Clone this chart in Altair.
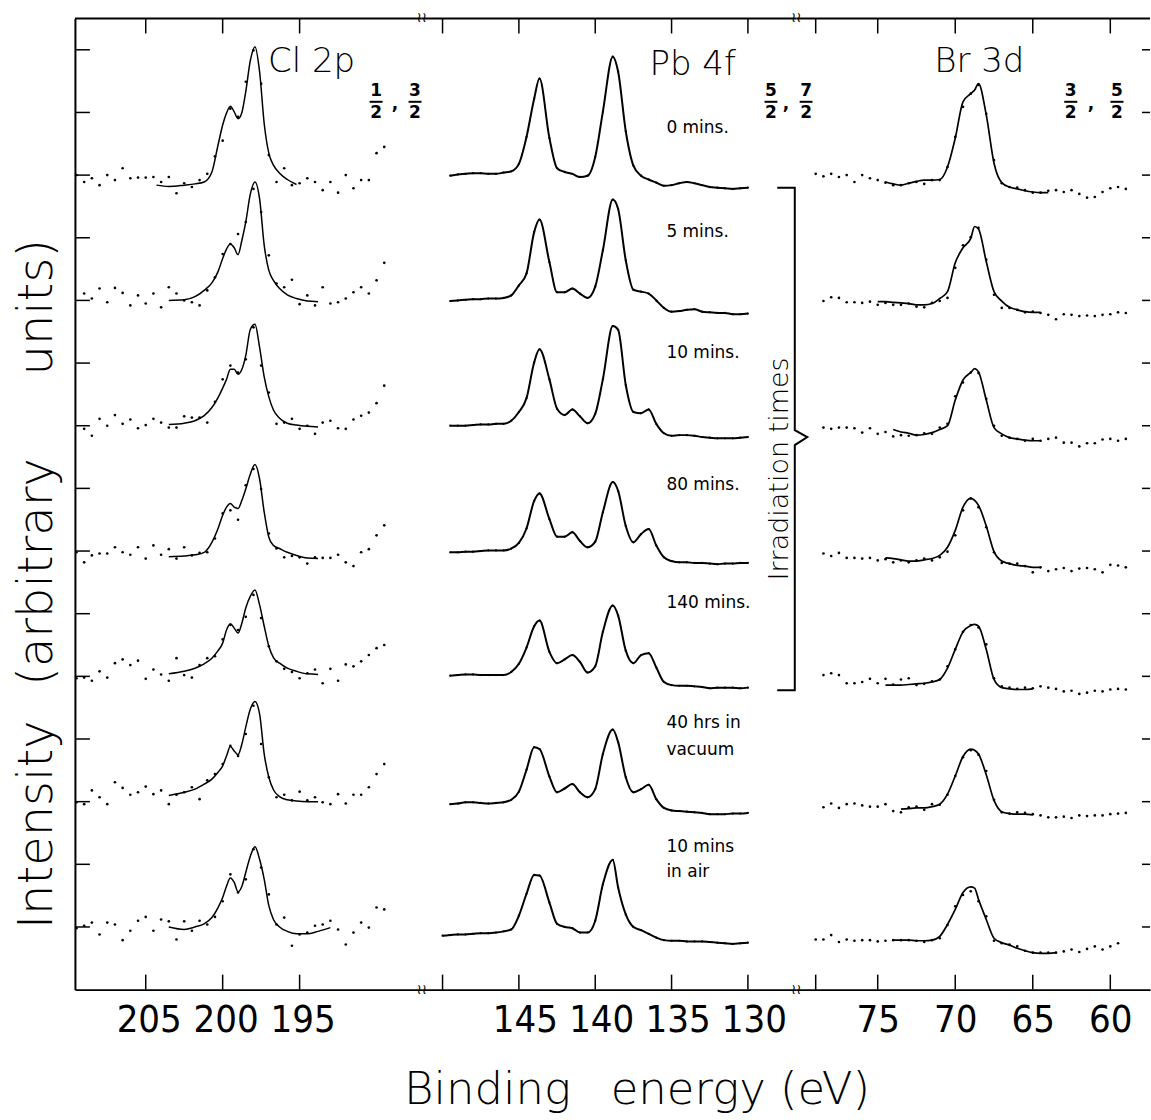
import altair as alt
import pandas as pd

# ---------------------------------------------------------------------------
# XPS spectra of a mixed Pb(Cl,Br) film after successive X-ray exposures.
# Each spectrum is stacked on its own baseline (in tick units).
# ---------------------------------------------------------------------------
SPECTRA = ["0 mins.", "5 mins.", "10 mins.", "80 mins.", "140 mins.",
           "40 hrs in vacuum", "10 mins in air"]
BASELINE = [13, 11, 9, 7, 5, 3, 1]

# --- Cl 2p: fitted envelope -------------------------------------------------
CL_FIT_E = [204.3, 203.5, 202.5, 201.8, 201.2, 200.7, 200.3, 200.0, 199.75, 199.5,
            199.25, 199.0, 198.75, 198.5, 198.2, 197.9, 197.6, 197.3, 197.0, 196.7,
            196.3, 195.8, 195.2, 194.5, 193.8, 193.0]
CL_FIT = [
    [-0.16, -0.18, -0.16, -0.14, -0.11, 0.05, 0.48, 0.80, 0.99, 1.10, 1.01, 0.90, 1.00,
     1.33, 1.83, 2.05, 1.65, 0.82, 0.35, 0.16, 0.03, -0.07, -0.15, None, None, None],
    [None, 0.00, 0.01, 0.06, 0.16, 0.28, 0.46, 0.67, 0.82, 0.90, 0.84, 0.73, 0.96,
     1.25, 1.70, 1.89, 1.62, 0.88, 0.48, 0.32, 0.19, 0.09, 0.03, -0.01, -0.02, None],
    [None, 0.02, 0.04, 0.08, 0.16, 0.29, 0.45, 0.60, 0.74, 0.90, 0.90, 0.82, 0.90,
     1.12, 1.54, 1.62, 1.25, 0.78, 0.46, 0.25, 0.12, 0.04, 0.01, -0.01, -0.02, None],
    [None, -0.09, -0.08, -0.06, -0.02, 0.14, 0.36, 0.57, 0.70, 0.76, 0.70, 0.68, 0.81,
     0.99, 1.23, 1.38, 1.15, 0.62, 0.22, 0.09, 0.04, -0.02, -0.07, -0.11, -0.12, None],
    [None, 0.04, 0.08, 0.13, 0.20, 0.29, 0.41, 0.53, 0.74, 0.84, 0.77, 0.69, 0.85,
     1.09, 1.28, 1.38, 1.14, 0.80, 0.48, 0.30, 0.21, 0.13, 0.08, 0.04, 0.03, None],
    [None, 0.10, 0.15, 0.20, 0.28, 0.36, 0.47, 0.57, 0.73, 0.88, 0.81, 0.75, 0.92,
     1.19, 1.48, 1.60, 1.40, 0.76, 0.39, 0.19, 0.08, 0.03, 0.01, 0.00, 0.00, None],
    [None, 0.00, -0.04, 0.00, 0.05, 0.15, 0.31, 0.47, 0.65, 0.78, 0.71, 0.56, 0.65,
     0.87, 1.13, 1.28, 1.08, 0.76, 0.34, 0.12, 0.00, -0.07, -0.11, -0.11, -0.07, -0.01],
]

# --- Cl 2p: measured counts -------------------------------------------------
CL_DOT_E = [209.5, 209.0, 208.5, 208.0, 207.5, 207.0, 206.5, 206.0, 205.5, 205.0,
            204.5, 204.0, 203.5, 203.0, 202.5, 202.0, 201.5, 201.0, 200.5, 200.0,
            199.5, 199.0, 198.5, 198.0, 197.5, 197.0, 196.5, 196.0, 195.5, 195.0,
            194.5, 194.0, 193.5, 193.0, 192.5, 192.0, 191.5, 191.0, 190.5, 190.0, 189.5]
CL_DOTS = [
    [0.00, -0.11, -0.05, -0.16, 0.00, -0.08, 0.11, -0.05, -0.04, -0.04, -0.03, -0.11,
     -0.03, -0.29, -0.13, -0.19, -0.08, 0.02, 0.30, 0.55, 1.06, 0.93, 1.49, 1.99, 1.46,
     0.32, -0.11, 0.11, -0.16, -0.13, -0.05, -0.11, -0.24, -0.11, -0.28, 0.00, -0.21,
     -0.08, -0.08, 0.35, 0.45],
    [None, 0.11, 0.03, 0.19, -0.03, 0.20, 0.12, -0.08, 0.08, -0.05, 0.11, -0.11, 0.21,
     0.11, 0.00, -0.03, -0.08, 0.16, 0.37, 0.74, 0.90, 1.06, 1.25, 1.78, 1.41, 0.72,
     0.27, 0.21, 0.33, -0.06, 0.08, -0.08, 0.21, -0.05, -0.03, 0.03, 0.13, 0.21, 0.11,
     0.32, 0.60],
    [None, -0.05, -0.16, 0.11, 0.00, 0.17, 0.03, 0.10, -0.04, 0.01, 0.11, 0.05, -0.03,
     -0.03, 0.15, 0.13, 0.13, 0.05, 0.38, 0.74, 0.96, 0.85, 1.06, 1.57, 0.96, 0.53,
     0.03, 0.05, 0.11, -0.05, 0.00, -0.13, 0.05, 0.08, -0.04, -0.05, 0.10, 0.16, 0.21,
     0.36, 0.64],
    [-0.02, -0.18, -0.07, -0.04, -0.04, 0.06, -0.02, -0.06, 0.06, -0.12, 0.09, -0.06,
     0.03, -0.12, 0.06, -0.07, -0.03, -0.02, 0.20, 0.60, 0.65, 0.50, 1.05, 1.31, 0.99,
     0.28, 0.04, -0.10, -0.08, -0.10, -0.20, -0.10, -0.11, -0.11, -0.06, -0.18, -0.24,
     -0.02, 0.03, 0.25, 0.41],
    [-0.03, -0.02, -0.07, 0.08, -0.02, 0.21, 0.27, 0.18, 0.25, -0.04, 0.11, 0.03, -0.07,
     0.29, 0.02, -0.02, 0.18, 0.29, 0.32, 0.59, 0.82, 0.74, 0.95, 1.30, 0.93, 0.48,
     0.24, 0.12, 0.07, -0.03, 0.05, 0.11, -0.11, 0.12, -0.07, 0.19, 0.16, 0.24, 0.34,
     0.45, 0.50],
    [-0.01, -0.04, 0.18, 0.07, -0.04, 0.31, 0.22, 0.11, 0.15, 0.24, 0.12, 0.18, -0.04,
     0.11, 0.15, 0.23, 0.04, 0.34, 0.44, 0.60, 0.89, 0.73, 1.08, 1.53, 0.92, 0.39,
     0.07, 0.11, 0.02, 0.16, 0.02, 0.07, -0.01, -0.04, 0.12, -0.03, 0.11, 0.11, 0.23,
     0.44, 0.60],
    [-0.02, 0.02, 0.07, -0.12, 0.07, 0.04, -0.21, -0.06, 0.10, 0.16, -0.06, 0.12, 0.09,
     -0.20, 0.09, -0.06, 0.10, 0.04, 0.16, 0.41, 0.84, 0.55, 0.76, 1.24, 0.95, 0.52,
     0.04, 0.15, -0.30, -0.12, -0.09, 0.02, 0.04, 0.10, -0.04, -0.28, -0.09, 0.07,
     -0.01, 0.31, 0.28],
]

# --- Pb 4f: densely sampled trace --------------------------------------------
PB_E = [150.0, 149.5, 149.0, 148.5, 148.0, 147.5, 147.0, 146.5, 146.0, 145.5, 145.0,
        144.5, 144.0, 143.65, 143.0, 142.5, 142.0, 141.5, 141.0, 140.5, 140.0, 139.5,
        138.85, 138.5, 138.0, 137.5, 137.0, 136.5, 136.0, 135.5, 135.0, 134.5, 134.0,
        133.5, 133.0, 132.5, 132.0, 131.5, 131.0, 130.5, 130.0]
PB_FIT = [
    [None, -0.01, 0.01, 0.02, 0.03, 0.03, 0.02, 0.02, 0.04, 0.06, 0.18, 0.61, 1.22,
     1.54, 0.59, 0.11, 0.05, 0.02, -0.03, -0.01, 0.29, 1.01, 1.89, 1.65, 0.70, 0.15,
     -0.01, -0.07, -0.12, -0.17, -0.16, -0.13, -0.11, -0.13, -0.16, -0.19, -0.20,
     -0.21, -0.22, -0.21, -0.20],
    [None, -0.01, 0.00, 0.01, 0.02, 0.02, 0.03, 0.03, 0.04, 0.08, 0.24, 0.43, 1.09,
     1.29, 0.61, 0.13, 0.13, 0.19, 0.11, 0.04, 0.22, 0.80, 1.61, 1.46, 0.64, 0.17,
     0.14, 0.11, 0.00, -0.12, -0.18, -0.17, -0.15, -0.14, -0.18, -0.19, -0.20, -0.20,
     -0.22, -0.22, -0.21],
    [None, 0.00, 0.00, 0.00, 0.01, 0.02, 0.02, 0.03, 0.03, 0.08, 0.22, 0.44, 1.01,
     1.22, 0.74, 0.27, 0.17, 0.26, 0.15, 0.04, 0.19, 0.74, 1.59, 1.53, 0.65, 0.22,
     0.20, 0.26, 0.03, -0.12, -0.16, -0.15, -0.15, -0.16, -0.18, -0.19, -0.20, -0.20,
     -0.20, -0.19, -0.18],
    [None, -0.02, -0.02, -0.01, -0.01, 0.00, 0.01, 0.01, 0.01, 0.04, 0.13, 0.36, 0.80,
     0.92, 0.51, 0.23, 0.23, 0.30, 0.16, 0.06, 0.15, 0.62, 1.10, 0.96, 0.40, 0.14,
     0.27, 0.35, 0.09, -0.10, -0.16, -0.18, -0.18, -0.19, -0.19, -0.20, -0.21, -0.20,
     -0.20, -0.19, -0.19],
    [None, 0.01, 0.02, 0.03, 0.03, 0.02, 0.02, 0.02, 0.02, 0.07, 0.20, 0.46, 0.80,
     0.89, 0.39, 0.21, 0.27, 0.34, 0.23, 0.06, 0.16, 0.71, 1.13, 0.97, 0.41, 0.21,
     0.34, 0.37, 0.14, -0.09, -0.14, -0.15, -0.15, -0.16, -0.17, -0.19, -0.18, -0.18,
     -0.18, -0.19, -0.18],
    [None, -0.04, -0.03, -0.01, -0.01, -0.02, -0.03, -0.02, -0.01, 0.03, 0.16, 0.51,
     0.87, 0.84, 0.40, 0.15, 0.21, 0.28, 0.15, 0.07, 0.20, 0.76, 1.15, 0.95, 0.39,
     0.15, 0.20, 0.27, 0.04, -0.10, -0.14, -0.15, -0.16, -0.17, -0.18, -0.20, -0.20,
     -0.20, -0.19, -0.19, -0.18],
    [-0.14, -0.13, -0.12, -0.12, -0.11, -0.10, -0.10, -0.09, -0.07, -0.04, 0.18, 0.53,
     0.83, 0.82, 0.39, 0.05, 0.00, -0.02, -0.09, -0.09, 0.10, 0.68, 1.07, 0.63, 0.20,
     0.00, -0.05, -0.11, -0.17, -0.21, -0.22, -0.22, -0.23, -0.23, -0.23, -0.24,
     -0.25, -0.26, -0.27, -0.26, -0.25],
]

# --- Br 3d: fitted envelope ---------------------------------------------------
BR_FIT_E = [75.0, 74.5, 74.0, 73.5, 73.0, 72.5, 72.0, 71.5, 71.0, 70.5, 70.0, 69.5,
            69.0, 68.75, 68.5, 68.0, 67.5, 67.0, 66.5, 66.0, 65.5, 65.0, 64.5, 64.0, 63.5]
BR_FIT = [
    [None, -0.11, -0.14, -0.16, -0.13, -0.10, -0.08, -0.08, -0.07, 0.13, 0.59, 1.17,
     1.30, 1.36, 1.46, 0.96, 0.19, -0.12, -0.19, -0.22, -0.25, -0.27, -0.28, -0.28, None],
    [-0.02, -0.02, -0.03, -0.04, -0.05, -0.07, -0.07, -0.05, 0.03, 0.14, 0.60, 0.84,
     0.99, 1.18, 1.14, 0.62, 0.14, -0.01, -0.11, -0.15, -0.18, -0.19, -0.19, None, None],
    [None, None, -0.06, -0.10, -0.12, -0.15, -0.14, -0.11, -0.06, 0.00, 0.41, 0.73,
     0.85, 0.91, 0.86, 0.41, -0.03, -0.13, -0.19, -0.21, -0.23, -0.24, -0.24, None, None],
    [None, -0.11, -0.12, -0.14, -0.16, -0.16, -0.14, -0.12, -0.07, 0.06, 0.33, 0.70,
     0.84, 0.81, 0.73, 0.40, -0.01, -0.16, -0.20, -0.23, -0.24, -0.26, -0.26, None, None],
    [None, -0.14, -0.14, -0.14, -0.13, -0.12, -0.11, -0.09, -0.05, 0.13, 0.43, 0.71,
     0.81, 0.83, 0.80, 0.43, -0.05, -0.18, -0.20, -0.21, -0.21, -0.20, None, None, None],
    [None, None, None, -0.12, -0.11, -0.10, -0.10, -0.08, -0.04, 0.12, 0.41, 0.72,
     0.84, 0.82, 0.76, 0.43, 0.02, -0.16, -0.19, -0.20, -0.20, -0.21, None, None, None],
    [None, None, -0.21, -0.21, -0.21, -0.22, -0.22, -0.21, -0.15, 0.04, 0.28, 0.55,
     0.64, 0.62, 0.44, 0.12, -0.18, -0.25, -0.29, -0.34, -0.38, -0.41, -0.42, -0.42, -0.41],
]

# --- Br 3d: measured counts ---------------------------------------------------
BR_DOT_E = [79.0, 78.5, 78.0, 77.5, 77.0, 76.5, 76.0, 75.5, 75.0, 74.5, 74.0, 73.5,
            73.0, 72.5, 72.0, 71.5, 71.0, 70.5, 70.0, 69.5, 69.0, 68.5, 68.0, 67.5,
            67.0, 66.5, 66.0, 65.5, 65.0, 64.5, 64.0, 63.5, 63.0, 62.5, 62.0, 61.5,
            61.0, 60.5, 60.0, 59.5, 59.0]
BR_DOTS = [
    [0.02, -0.02, 0.02, -0.03, 0.00, -0.11, 0.00, -0.05, -0.08, -0.12, -0.16, -0.16,
     -0.13, -0.11, -0.14, -0.08, -0.08, 0.13, 0.61, 1.09, 1.30, 1.44, 0.98, 0.24,
     -0.13, -0.19, -0.20, -0.24, -0.28, -0.28, -0.25, -0.24, -0.27, -0.24, -0.30,
     -0.36, -0.35, -0.27, -0.21, -0.19, -0.22],
    [None, -0.01, 0.05, 0.04, -0.03, -0.03, -0.04, -0.02, -0.07, -0.04, -0.07, -0.07,
     -0.05, -0.10, -0.11, -0.04, -0.01, 0.04, 0.52, 0.88, 1.01, 1.16, 0.65, 0.09,
     -0.12, -0.12, -0.15, -0.19, -0.18, -0.20, -0.23, -0.30, -0.22, -0.23, -0.25,
     -0.24, -0.25, -0.23, -0.22, -0.19, -0.20],
    [None, -0.03, -0.05, -0.03, -0.03, -0.04, -0.11, -0.04, -0.13, -0.10, -0.17, -0.15,
     -0.16, -0.15, -0.12, -0.13, -0.03, 0.03, 0.47, 0.69, 0.85, 0.84, 0.43, 0.00,
     -0.16, -0.19, -0.21, -0.24, -0.21, -0.24, -0.21, -0.19, -0.27, -0.27, -0.33,
     -0.28, -0.28, -0.22, -0.21, -0.24, -0.21],
    [None, -0.04, -0.08, -0.03, -0.11, -0.11, -0.12, -0.11, -0.15, -0.13, -0.18, -0.15,
     -0.18, -0.15, -0.12, -0.15, -0.10, -0.01, 0.25, 0.65, 0.84, 0.70, 0.38, -0.02,
     -0.19, -0.20, -0.20, -0.24, -0.34, -0.26, -0.32, -0.29, -0.27, -0.32, -0.28,
     -0.27, -0.29, -0.34, -0.22, -0.23, -0.26],
    [None, 0.02, 0.05, 0.02, -0.11, -0.11, -0.09, -0.04, -0.11, -0.04, -0.13, -0.05,
     -0.03, -0.14, -0.12, -0.08, -0.05, 0.16, 0.43, 0.71, 0.82, 0.78, 0.51, -0.03,
     -0.16, -0.18, -0.20, -0.18, -0.19, -0.16, -0.18, -0.20, -0.24, -0.23, -0.28,
     -0.26, -0.23, -0.24, -0.21, -0.20, -0.21],
    [None, -0.09, -0.03, -0.10, -0.04, -0.03, -0.06, -0.08, -0.08, -0.04, -0.15, -0.17,
     -0.09, -0.08, -0.13, -0.04, -0.05, 0.11, 0.41, 0.71, 0.82, 0.75, 0.49, 0.03,
     -0.17, -0.19, -0.17, -0.18, -0.20, -0.22, -0.25, -0.25, -0.24, -0.26, -0.22,
     -0.23, -0.22, -0.22, -0.20, -0.19, -0.18],
    [-0.20, -0.20, -0.13, -0.24, -0.20, -0.22, -0.21, -0.21, -0.23, -0.22, -0.21, -0.21,
     -0.21, -0.22, -0.24, -0.21, -0.18, 0.03, 0.33, 0.51, 0.57, 0.41, 0.17, -0.22,
     -0.26, -0.28, -0.31, -0.38, -0.41, -0.41, -0.41, -0.41, -0.39, -0.36, -0.40,
     -0.35, -0.31, -0.36, -0.31, -0.26, None],
]

# Axis ticks (energies in eV) and the ones that carry a number
CL_TICKS, CL_LABELS = [205, 200, 195], [205, 200, 195]
PB_TICKS, PB_LABELS = [150, 145, 140, 135, 130], [145, 140, 135, 130]
BR_TICKS, BR_LABELS = [79, 75, 70, 65, 60], [75, 70, 65, 60]

# ---------------------------------------------------------------------------
H = 972
W_CL, W_PB, W_BR = 347, 375, 354
CL_DOMAIN, PB_DOMAIN, BR_DOMAIN = [187.07, 209.6], [126.83, 151.37], [57.44, 80.25]
TICK = 15
INK = "black"
NUM_FONT = "DejaVu Sans Condensed, Liberation Sans, sans-serif"
HAND_FONT = "DejaVu Sans"


def stack(energies, rows):
    recs = []
    for name, base, row in zip(SPECTRA, BASELINE, rows):
        assert len(row) == len(energies), name
        for e, v in zip(energies, row):
            if v is not None:
                recs.append({"energy": e, "signal": round(base + v, 3), "spectrum": name})
    return pd.DataFrame(recs)


def xenc(domain, labels, shift, field="energy"):
    return alt.X(f"{field}:Q",
                 scale=alt.Scale(domain=domain, reverse=True, nice=False, zero=False),
                 axis=alt.Axis(values=labels, title=None, ticks=False, grid=False,
                               domainColor=INK, domainWidth=2, labelFont=NUM_FONT,
                               labelFontSize=38, labelColor=INK, labelPadding=12,
                               labelOffset=shift, labelFlush=False, labelOverlap=False,
                               format="d"))


def yenc(first, field="signal"):
    axis = (alt.Axis(labels=False, ticks=False, grid=False, title=None,
                     domainColor=INK, domainWidth=2) if first else None)
    return alt.Y(f"{field}:Q", scale=alt.Scale(domain=[0, 15.5], nice=False, zero=False),
                 axis=axis)


def panel(width, domain, labels, shift, ticks, fit, dots, line_width, dot_size,
          title, fracs, first=False, last=False, extra=()):
    X = lambda f="energy": xenc(domain, labels, shift, f)
    layers = [
        alt.Chart(fit).mark_line(color=INK, strokeWidth=line_width, interpolate="monotone")
        .encode(x=X(), y=yenc(first), detail="spectrum:N"),
        alt.Chart(dots).mark_circle(color=INK, size=dot_size, opacity=1)
        .encode(x=X(), y=yenc(first)),
    ]
    tick_df = pd.DataFrame({"energy": ticks})
    layers += [
        alt.Chart(tick_df).mark_rule(color=INK, strokeWidth=1.5)
        .encode(x=X(), y=alt.value(H - TICK), y2=alt.value(H)),
        alt.Chart(tick_df).mark_rule(color=INK, strokeWidth=1.5)
        .encode(x=X(), y=alt.value(0), y2=alt.value(TICK)),
        alt.Chart(pd.DataFrame({"edge": [0]})).mark_rule(color=INK, strokeWidth=2)
        .encode(x=alt.value(0), x2=alt.value(width), y=alt.value(0)),
    ]
    levels = pd.DataFrame({"signal": list(range(1, 16))})
    if first:
        layers.append(alt.Chart(levels).mark_rule(color=INK, strokeWidth=1.5)
                      .encode(y=yenc(first), x=alt.value(0), x2=alt.value(TICK)))
    if last:
        layers.append(alt.Chart(levels).mark_rule(color=INK, strokeWidth=1.5)
                      .encode(y=yenc(first), x=alt.value(width - 8), x2=alt.value(width)))

    # element symbol with its spin-orbit fractions
    t_df = pd.DataFrame([title], columns=["energy", "signal", "text"])
    layers.append(alt.Chart(t_df).mark_text(color=INK, font=HAND_FONT, fontSize=34,
                                            fontWeight=200, align="left",
                                            baseline="alphabetic")
                  .encode(x=X(), y=yenc(first), text="text:N"))
    digits, bars = [], []
    for e, num, sep in fracs:
        digits += [(e, 14.26, num), (e, 13.91, "2")]
        bars.append((e + 0.42, e - 0.42, 14.17))
        if sep is not None:
            digits.append((sep, 14.06, ","))
    d_df = pd.DataFrame(digits, columns=["energy", "signal", "text"])
    b_df = pd.DataFrame(bars, columns=["energy", "energy2", "signal"])
    layers.append(alt.Chart(d_df).mark_text(color=INK, font=HAND_FONT, fontSize=17,
                                            fontWeight="bold", align="center",
                                            baseline="alphabetic")
                  .encode(x=X(), y=yenc(first), text="text:N"))
    layers.append(alt.Chart(b_df).mark_rule(color=INK, strokeWidth=2)
                  .encode(x=X(), x2=alt.X2("energy2:Q"), y=yenc(first)))
    layers += [mk(X, yenc(first)) for mk in extra]
    return alt.layer(*layers).properties(width=width, height=H)


# --- Cl panel extras: y-axis title, one word at a time ----------------------
def y_title(X, Y):
    df = pd.DataFrame({"text": ["Intensity", "(arbitrary", "units)"],
                       "py": [807, 554, 289]})
    return (alt.Chart(df)
            .mark_text(color=INK, font=HAND_FONT, fontSize=48, fontWeight=200,
                       angle=270, align="center", baseline="middle")
            .encode(x=alt.value(-37), y=alt.Y("py:Q", scale=None, axis=None),
                    text="text:N"))


# --- Pb panel extras: sample history, bracket, x-axis title, breaks --------
NOTES = pd.DataFrame({
    "energy": [135.34] * 9,
    "signal": [13.75, 12.09, 10.16, 8.05, 6.17, 4.26, 3.83, 2.28, 1.87],
    "text": ["0 mins.", "5 mins.", "10 mins.", "80 mins.", "140 mins.",
             "40 hrs in", "vacuum", "10 mins", "in air"],
})
BRACKET = pd.DataFrame({
    "energy": [128.08, 126.93, 126.93, 126.11, 126.93, 126.93, 128.08],
    "signal": [12.80, 12.80, 8.93, 8.82, 8.69, 4.78, 4.78],
    "k": list(range(7)),
})


def notes_layer(X, Y):
    return (alt.Chart(NOTES).mark_text(color=INK, font=HAND_FONT, fontSize=17,
                                       align="left", baseline="middle")
            .encode(x=X(), y=Y, text="text:N"))


def bracket_layer(X, Y):
    return (alt.Chart(BRACKET).mark_line(color=INK, strokeWidth=2, interpolate="linear")
            .encode(x=X(), y=Y, order="k:Q"))


def irradiation_layer(X, Y):
    return (alt.Chart(pd.DataFrame({"energy": [127.88], "signal": [8.31],
                                    "text": ["Irradiation   times"]}))
            .mark_text(color=INK, font=HAND_FONT, fontSize=27, fontWeight=200,
                       angle=270, align="center", baseline="middle")
            .encode(x=X(), y=Y, text="text:N"))


def x_title(X, Y):
    df = pd.DataFrame({"text": ["Binding", "energy (eV)"], "px": [66, 319]})
    return (alt.Chart(df)
            .mark_text(color=INK, font=HAND_FONT, fontSize=45, fontWeight=200,
                       align="center", baseline="alphabetic")
            .encode(x=alt.X("px:Q", scale=None, axis=None), y=alt.value(1086),
                    text="text:N"))


def break_marks(X, Y):
    df = pd.DataFrame({"px": [0, 0, W_PB, W_PB], "py": [0, H, 0, H], "text": ["≀≀"] * 4})
    return (alt.Chart(df).mark_text(color=INK, font=HAND_FONT, fontSize=14,
                                    align="center", baseline="middle")
            .encode(x=alt.X("px:Q", scale=None, axis=None),
                    y=alt.Y("py:Q", scale=None, axis=None), text="text:N"))


cl = panel(W_CL, CL_DOMAIN, CL_LABELS, 3, CL_TICKS,
           stack(CL_FIT_E, CL_FIT), stack(CL_DOT_E, CL_DOTS), 1.5, 7,
           (197.05, 14.64, "Cl  2p"),
           [(190.03, "1", 188.8), (187.5, "3", None)],
           first=True, extra=(y_title,))

pb = panel(W_PB, PB_DOMAIN, PB_LABELS, 6, PB_TICKS,
           stack(PB_E, PB_FIT), stack(PB_E, PB_FIT), 2.0, 5,
           (136.45, 14.6, "Pb  4f"),
           [(128.49, "5", 127.5), (126.19, "7", None)],
           extra=(notes_layer, bracket_layer, irradiation_layer, x_title, break_marks))

br = panel(W_BR, BR_DOMAIN, BR_LABELS, 0, BR_TICKS,
           stack(BR_FIT_E, BR_FIT), stack(BR_DOT_E, BR_DOTS), 1.7, 7,
           (71.36, 14.64, "Br   3d"),
           [(62.55, "3", 61.24), (59.57, "5", None)],
           last=True)

chart = (alt.hconcat(cl, pb, br, spacing=0, bounds="flush")
         .properties(padding={"left": 14, "right": 0, "top": 11, "bottom": 3},
                     background="white")
         .configure_view(strokeWidth=0))

chart.save("out.html", embed_options={"renderer": "svg", "actions": False})
